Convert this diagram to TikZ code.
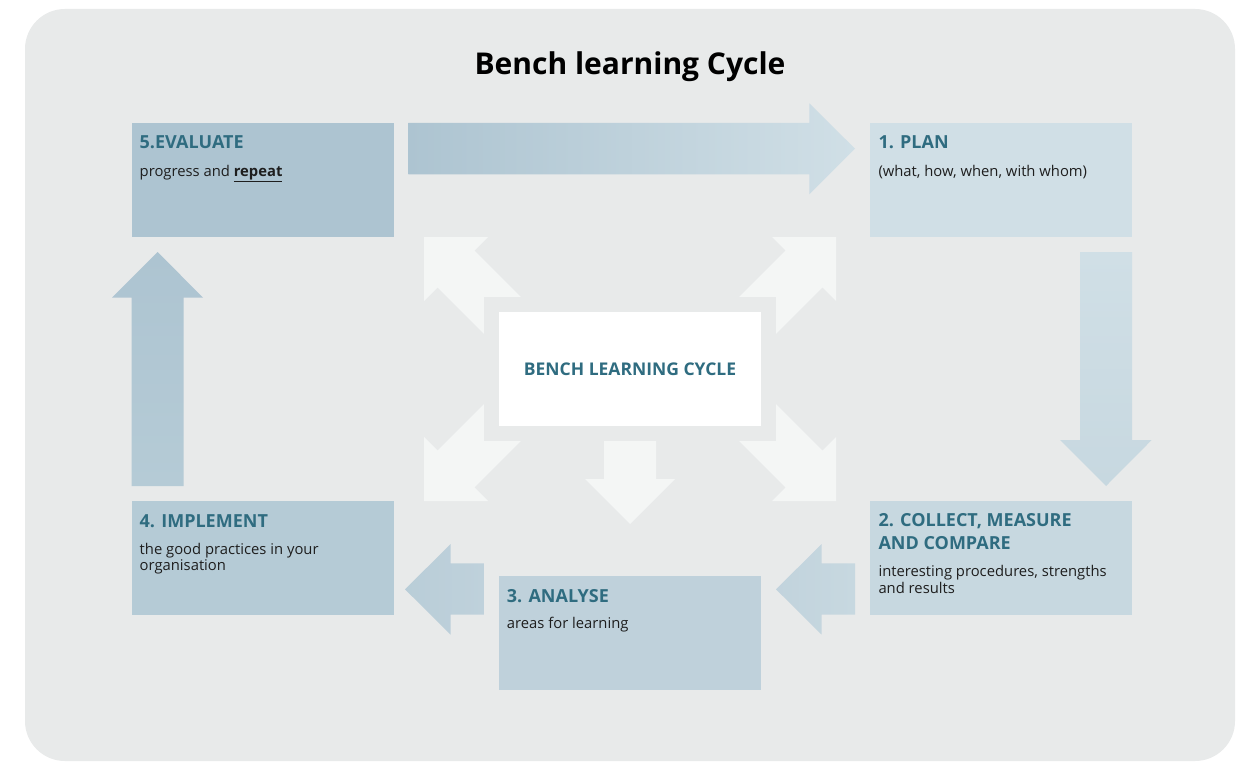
\documentclass[tikz,border=0pt]{standalone}
\usepackage{fontspec}
\setmainfont{Open Sans}
\definecolor{bgc}{HTML}{E8EAEA}
\definecolor{cfive}{HTML}{ADC4D1}
\definecolor{cone}{HTML}{D0DFE6}
\definecolor{cfour}{HTML}{B5CBD6}
\definecolor{ctwo}{HTML}{C7D8E0}
\definecolor{cthree}{HTML}{BFD1DB}
\definecolor{lightarr}{HTML}{F4F6F5}
\definecolor{headc}{HTML}{2F6C80}
\definecolor{bodyc}{HTML}{1E1E1E}
\tikzset{
  stagebox/.style={draw=none, minimum width=262pt, minimum height=114pt, anchor=north west, inner sep=0pt},
  headtxt/.style={anchor=base west, inner sep=0pt, text=headc, font=\fontsize{18}{22}\selectfont\bfseries},
  bodytxt/.style={anchor=base west, inner sep=0pt, text=bodyc, font=\fontsize{14.8}{17}\selectfont},
  lightarrow/.style={fill=lightarr, draw=none},
}
\begin{document}
\begin{tikzpicture}[x=1pt, y=-1pt]
\useasboundingbox (0,0) rectangle (1239,762);
\fill[white] (0,0) rectangle (1239,762);
% background panel
\fill[bgc, rounded corners=40pt] (25,9) rectangle (1235,761);

% title
\node[anchor=base, inner sep=0pt, font=\fontsize{30}{34}\selectfont\bfseries, text=black] (title) at (630,74.3) {Bench learning Cycle};

% central light arrows
\fill[lightarrow] (424,237) -- (488,237) -- (474.4,250.6) -- (562.4,338.6) -- (525.6,375.4) -- (437.6,287.4) -- (424,301) -- cycle;
\fill[lightarrow] (836,237) -- (772,237) -- (785.6,250.6) -- (697.6,338.6) -- (734.4,375.4) -- (822.4,287.4) -- (836,301) -- cycle;
\fill[lightarrow] (424,501) -- (488,501) -- (474.4,487.4) -- (562.4,399.4) -- (525.6,362.6) -- (437.6,450.6) -- (424,437) -- cycle;
\fill[lightarrow] (836,501) -- (772,501) -- (785.6,487.4) -- (697.6,399.4) -- (734.4,362.6) -- (822.4,450.6) -- (836,437) -- cycle;
\fill[lightarrow] (630,524) -- (675,479) -- (656,479) -- (656,420) -- (604,420) -- (604,479) -- (585,479) -- cycle;
% frame around centre
\fill[bgc] (484,297) rectangle (776,441);
\node[fill=white, minimum width=262pt, minimum height=114pt, inner sep=0pt, anchor=north west] (centre) at (499,312) {};
\node[anchor=base, inner sep=0pt, text=headc, font=\fontsize{17.5}{21}\selectfont\bfseries] (centretxt) at (630,375.5) {BENCH LEARNING CYCLE};

% stage boxes
\node[stagebox, fill=cfive] (b5) at (132,123) {};
\node[stagebox, fill=cone] (b1) at (870,123) {};
\node[stagebox, fill=cfour] (b4) at (132,501) {};
\node[stagebox, fill=ctwo] (b2) at (870,501) {};
\node[stagebox, fill=cthree] (b3) at (499,576) {};

% big arrows between stages
\shade[left color=cfive, right color=cone] (408.3,123) -- (809.3,123) -- (809.3,103.3) -- (855,148.7) -- (809.3,194.3) -- (809.3,174.3) -- (408.3,174.3) -- cycle;
\shade[top color=cone, bottom color=ctwo] (1080,252) -- (1132,252) -- (1132,440) -- (1151.7,440) -- (1106,486) -- (1060,440) -- (1080,440) -- cycle;
\shade[left color=cthree!70!ctwo, right color=ctwo] (855,563.3) -- (821.7,563.3) -- (821.7,544) -- (776,589.3) -- (821.7,634.7) -- (821.7,614.7) -- (855,614.7) -- cycle;
\shade[left color=cfour!60!cthree, right color=cthree] (484,563.3) -- (450.7,563.3) -- (450.7,544) -- (405,589.3) -- (450.7,634.7) -- (450.7,614.7) -- (484,614.7) -- cycle;
\shade[top color=cfive, bottom color=cfour] (131.7,486) -- (131.7,297.7) -- (112,297.7) -- (157.7,252) -- (203,297.7) -- (183.7,297.7) -- (183.7,486) -- cycle;

% texts
\node[headtxt] (h5) at (139.5,148.3) {5.EVALUATE};
\node[bodytxt] (t5) at (139.5,176.5) {progress and \textbf{\underline{repeat}}};

\node[headtxt] (h1) at (878.3,148.3) {1. PLAN};
\node[bodytxt] (t1) at (878.3,176.5) {(what, how, when, with whom)};

\node[headtxt] (h4) at (139.5,527.3) {4. IMPLEMENT};
\node[bodytxt] (t4a) at (139.5,554) {the good practices in your};
\node[bodytxt] (t4b) at (139.5,570.8) {organisation};

\node[headtxt] (h2a) at (878.3,526.7) {2. COLLECT, MEASURE};
\node[headtxt] (h2b) at (878.3,549.3) {AND COMPARE};
\node[bodytxt] (t2a) at (878.3,576.7) {interesting procedures, strengths};
\node[bodytxt] (t2b) at (878.3,593.4) {and results};

\node[headtxt] (h3) at (506.7,602) {3. ANALYSE};
\node[bodytxt] (t3) at (506.7,628.7) {areas for learning};
\end{tikzpicture}
\end{document}
